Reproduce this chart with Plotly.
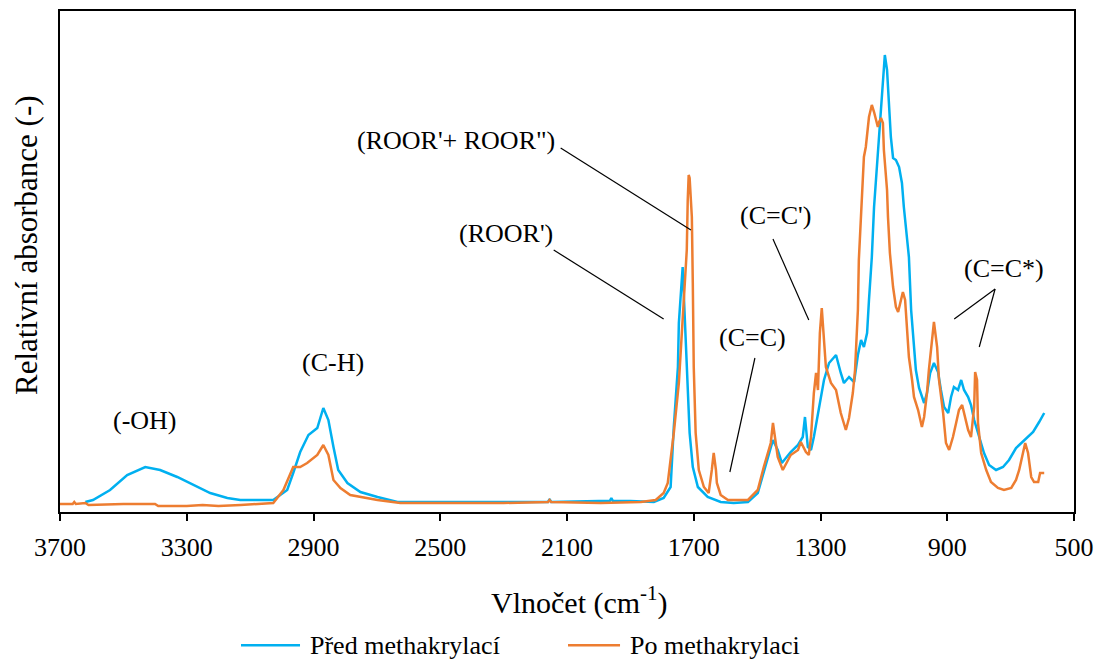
import plotly.graph_objects as go

# FTIR spectra: wavenumber (cm-1) and relative absorbance
wn_pred = [3620, 3596, 3542, 3488, 3431, 3384, 3330, 3280, 3226, 3172, 3131, 3027, 2983, 2964, 2942,
           2916, 2888, 2869, 2853, 2837, 2822, 2793, 2752, 2698, 2635, 2300, 2160, 2155, 2150, 2000,
           1965, 1960, 1955, 1900, 1826, 1795, 1773, 1763, 1750, 1747, 1738, 1735, 1732, 1725, 1719,
           1713, 1703, 1687, 1656, 1615, 1574, 1529, 1498, 1479, 1457, 1450, 1435, 1422, 1394, 1371,
           1356, 1349, 1340, 1330, 1321, 1305, 1289, 1273, 1251, 1236, 1226, 1210, 1194, 1182, 1172,
           1163, 1153, 1147, 1138, 1131, 1122, 1115, 1106, 1100, 1097, 1090, 1084, 1078, 1071, 1062,
           1052, 1043, 1037, 1030, 1021, 1014, 1005, 999, 989, 973, 964, 954, 942, 929, 920, 910, 897,
           888, 879, 866, 856, 847, 834, 825, 815, 800, 784, 768, 746, 724, 705, 683, 657, 629, 610, 594]
abs_pred = [0.020, 0.024, 0.044, 0.074, 0.090, 0.084, 0.070, 0.054, 0.038, 0.028, 0.024, 0.024, 0.044,
            0.078, 0.120, 0.154, 0.168, 0.208, 0.184, 0.130, 0.084, 0.058, 0.040, 0.030, 0.020, 0.020,
            0.020, 0.026, 0.020, 0.022, 0.022, 0.028, 0.022, 0.022, 0.020, 0.028, 0.050, 0.170, 0.290,
            0.378, 0.458, 0.490, 0.444, 0.350, 0.258, 0.158, 0.090, 0.050, 0.030, 0.020, 0.018, 0.020,
            0.038, 0.080, 0.124, 0.144, 0.124, 0.098, 0.120, 0.134, 0.150, 0.190, 0.130, 0.124, 0.150,
            0.204, 0.264, 0.298, 0.314, 0.278, 0.258, 0.270, 0.260, 0.314, 0.344, 0.330, 0.358, 0.424,
            0.510, 0.610, 0.690, 0.770, 0.844, 0.890, 0.914, 0.884, 0.824, 0.750, 0.708, 0.704, 0.690,
            0.658, 0.610, 0.570, 0.510, 0.404, 0.334, 0.284, 0.248, 0.218, 0.238, 0.278, 0.298, 0.280,
            0.244, 0.210, 0.198, 0.230, 0.250, 0.244, 0.264, 0.244, 0.230, 0.214, 0.184, 0.150, 0.118,
            0.094, 0.084, 0.090, 0.104, 0.128, 0.144, 0.160, 0.180, 0.198]

wn_po = [3700, 3660, 3655, 3650, 3620, 3610, 3500, 3400, 3390, 3300, 3250, 3200, 3130, 3027, 2995,
         2964, 2942, 2920, 2888, 2869, 2853, 2837, 2815, 2784, 2698, 2626, 2300, 2160, 2155, 2150,
         1994, 1867, 1820, 1795, 1782, 1763, 1747, 1732, 1722, 1719, 1716, 1713, 1706, 1703, 1700,
         1694, 1684, 1668, 1653, 1643, 1637, 1630, 1627, 1615, 1592, 1529, 1498, 1479, 1457, 1450,
         1435, 1419, 1394, 1371, 1362, 1346, 1337, 1330, 1321, 1314, 1308, 1302, 1296, 1289, 1283,
         1267, 1251, 1236, 1220, 1210, 1198, 1191, 1182, 1179, 1169, 1163, 1157, 1150, 1147, 1138,
         1131, 1119, 1115, 1109, 1103, 1100, 1090, 1087, 1081, 1071, 1062, 1055, 1049, 1040, 1033,
         1027, 1021, 1011, 1005, 992, 980, 973, 964, 958, 951, 942, 932, 926, 913, 904, 894, 882,
         872, 863, 853, 844, 834, 825, 815, 812, 806, 803, 793, 777, 762, 740, 721, 698, 683, 673,
         660, 654, 645, 635, 626, 613, 607, 594]
abs_po = [0.016, 0.016, 0.020, 0.016, 0.018, 0.014, 0.016, 0.016, 0.012, 0.012, 0.014, 0.012, 0.014,
          0.018, 0.044, 0.090, 0.090, 0.098, 0.114, 0.134, 0.114, 0.064, 0.048, 0.034, 0.024, 0.018,
          0.018, 0.020, 0.024, 0.020, 0.018, 0.020, 0.024, 0.038, 0.058, 0.158, 0.258, 0.404, 0.524,
          0.624, 0.674, 0.668, 0.590, 0.458, 0.290, 0.158, 0.084, 0.050, 0.038, 0.084, 0.118, 0.084,
          0.058, 0.034, 0.024, 0.024, 0.044, 0.090, 0.138, 0.178, 0.110, 0.084, 0.114, 0.124, 0.140,
          0.120, 0.114, 0.150, 0.238, 0.278, 0.244, 0.358, 0.408, 0.344, 0.290, 0.258, 0.244, 0.198,
          0.164, 0.188, 0.238, 0.284, 0.404, 0.504, 0.644, 0.710, 0.730, 0.764, 0.790, 0.814, 0.800,
          0.770, 0.780, 0.788, 0.778, 0.724, 0.644, 0.590, 0.518, 0.450, 0.410, 0.400, 0.418, 0.440,
          0.424, 0.364, 0.310, 0.264, 0.230, 0.204, 0.170, 0.190, 0.238, 0.284, 0.330, 0.380, 0.330,
          0.264, 0.198, 0.138, 0.124, 0.150, 0.178, 0.204, 0.214, 0.190, 0.164, 0.150, 0.210, 0.280,
          0.264, 0.178, 0.118, 0.084, 0.060, 0.048, 0.044, 0.048, 0.064, 0.084, 0.124, 0.138, 0.118,
          0.070, 0.060, 0.060, 0.078, 0.078]

x_ticks = [3700, 3300, 2900, 2500, 2100, 1700, 1300, 900, 500]

series_names = ["Před methakrylací", "Po methakrylaci"]
series_colors = ["#00B0F0", "#ED7D31"]

# band labels: (text, x, y) and leader lines: (x0, y0, x1, y1)
band_labels = [
    ("(-OH)", 3431, 0.184),
    ("(C-H)", 2837, 0.300),
    ("(ROOR'+ ROOR\")", 2449, 0.744),
    ("(ROOR')", 2294, 0.558),
    ("(C=C')", 1441, 0.594),
    ("(C=C)", 1514, 0.350),
    ("(C=C*)", 720, 0.488),
]
leaders = [
    (2120, 0.728, 1709, 0.564),
    (2142, 0.524, 1795, 0.386),
    (1450, 0.546, 1337, 0.384),
    (1507, 0.308, 1586, 0.080),
    (749, 0.446, 878, 0.386),
    (749, 0.446, 799, 0.330),
]

SERIF = "Liberation Serif"

fig = go.Figure()
fig.add_trace(go.Scatter(x=wn_pred, y=abs_pred, mode="lines", name=series_names[0],
                         line=dict(color=series_colors[0], width=2.5)))
fig.add_trace(go.Scatter(x=wn_po, y=abs_po, mode="lines", name=series_names[1],
                         line=dict(color=series_colors[1], width=2.5)))

for text, x, y in band_labels:
    fig.add_annotation(x=x, y=y, xref="x", yref="y", text=text, showarrow=False,
                       xanchor="center", yanchor="middle",
                       font=dict(family=SERIF, size=26, color="black"))
for x0, y0, x1, y1 in leaders:
    fig.add_shape(type="line", xref="x", yref="y", x0=x0, y0=y0, x1=x1, y1=y1,
                  line=dict(color="black", width=1.2))

# axis titles
fig.add_annotation(x=-0.0325, y=0.533, xref="paper", yref="paper", text="Relativní absorbance (-)",
                   textangle=-90, showarrow=False, xanchor="center", yanchor="middle",
                   font=dict(family=SERIF, size=31, color="black"))
fig.add_annotation(x=0.512, y=-0.176, xref="paper", yref="paper", text="Vlnočet (cm<sup>-1</sup>)",
                   showarrow=False, xanchor="center", yanchor="middle",
                   font=dict(family=SERIF, size=30, color="black"))

# legend below the plot: line sample followed by the series name
legend_slots = [(0.1785, 0.2367), (0.501, 0.5523)]
legend_y = -0.266
for (lx0, lx1), name, color in zip(legend_slots, series_names, series_colors):
    fig.add_shape(type="line", xref="paper", yref="paper", x0=lx0, x1=lx1, y0=legend_y, y1=legend_y,
                  line=dict(color=color, width=2.5))
    fig.add_annotation(x=lx1 + 0.008, y=legend_y, xref="paper", yref="paper", text=name,
                       xanchor="left", yanchor="middle", showarrow=False,
                       font=dict(family=SERIF, size=26, color="black"))

fig.update_xaxes(range=[3700, 500], tickvals=x_ticks, ticktext=[str(t) for t in x_ticks],
                 ticks="outside", ticklen=7, tickwidth=2, tickcolor="black",
                 showline=True, linecolor="black", linewidth=2, mirror=True,
                 showgrid=False, zeroline=False, ticklabelstandoff=4, automargin=False,
                 tickfont=dict(family=SERIF, size=26, color="black"))
fig.update_yaxes(range=[0, 1.002], showticklabels=False, ticks="", automargin=False,
                 showline=True, linecolor="black", linewidth=2, mirror=True,
                 showgrid=False, zeroline=False)

fig.update_layout(
    width=1097, height=659,
    margin=dict(l=60, r=23, t=11, b=147),
    paper_bgcolor="white", plot_bgcolor="white",
    showlegend=False,
)

fig.write_html("out.html")
